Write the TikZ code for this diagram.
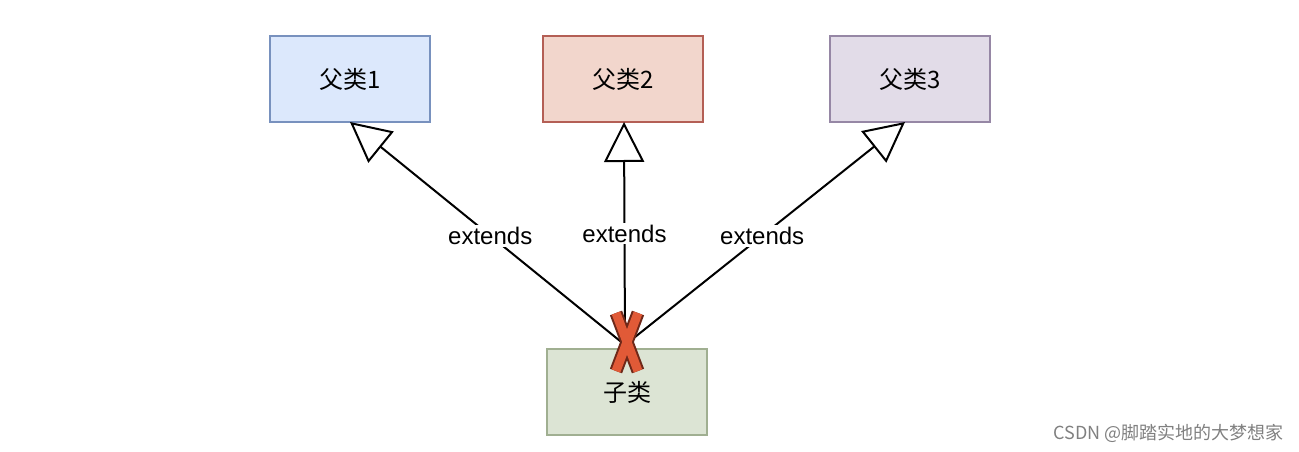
\documentclass[tikz,border=0pt]{standalone}
\usepackage{fontspec}
\setmainfont{Liberation Sans}
\newfontfamily\cjk{Noto Sans CJK SC}
\usetikzlibrary{arrows.meta}
\begin{document}
\begin{tikzpicture}[x=1pt,y=-1pt,
  cls/.style={draw, line width=1.2pt, minimum width=160pt, minimum height=86pt, font=\cjk\fontsize{24}{26}\selectfont},
  inh/.style={line width=2pt, -{Triangle[open, length=40pt, width=40pt, line width=2pt]}},
  lbl/.style={fill=white, inner sep=2pt, font=\fontsize{24}{26}\selectfont}]
\useasboundingbox (0,0) rectangle (1299,452);
\node[cls, fill={rgb,255:red,220;green,232;blue,252}, draw={rgb,255:red,120;green,145;blue,190}] (p1) at (350,79) {父类1};
\node[cls, fill={rgb,255:red,242;green,214;blue,204}, draw={rgb,255:red,180;green,95;blue,85}] (p2) at (623,79) {父类2};
\node[cls, fill={rgb,255:red,226;green,220;blue,232}, draw={rgb,255:red,150;green,135;blue,165}] (p3) at (910,79) {父类3};
\node[cls, fill={rgb,255:red,220;green,228;blue,212}, draw={rgb,255:red,160;green,175;blue,145}] (c) at (627,392) {子类};
\coordinate (m) at (625,345);
\draw[inh] (m) -- (350,122) node[lbl, pos=0.49] {extends};
\draw[inh] (m) -- (624,122) node[lbl, pos=0.5] {extends};
\draw[inh] (m) -- (905,122) node[lbl, pos=0.49] {extends};
\foreach \w/\col in {13/{rgb,255:red,110;green,40;blue,25}, 9/{rgb,255:red,225;green,90;blue,55}}{
  \draw[line width=\w pt, color=\col, line cap=butt] (616,313) -- (638,371);
  \draw[line width=\w pt, color=\col, line cap=butt] (638,313) -- (616,371);
}
\node[text=gray, font=\cjk\fontsize{18}{20}\selectfont, anchor=east] (wm) at (1287,433) {CSDN @脚踏实地的大梦想家};
\end{tikzpicture}
\end{document}
